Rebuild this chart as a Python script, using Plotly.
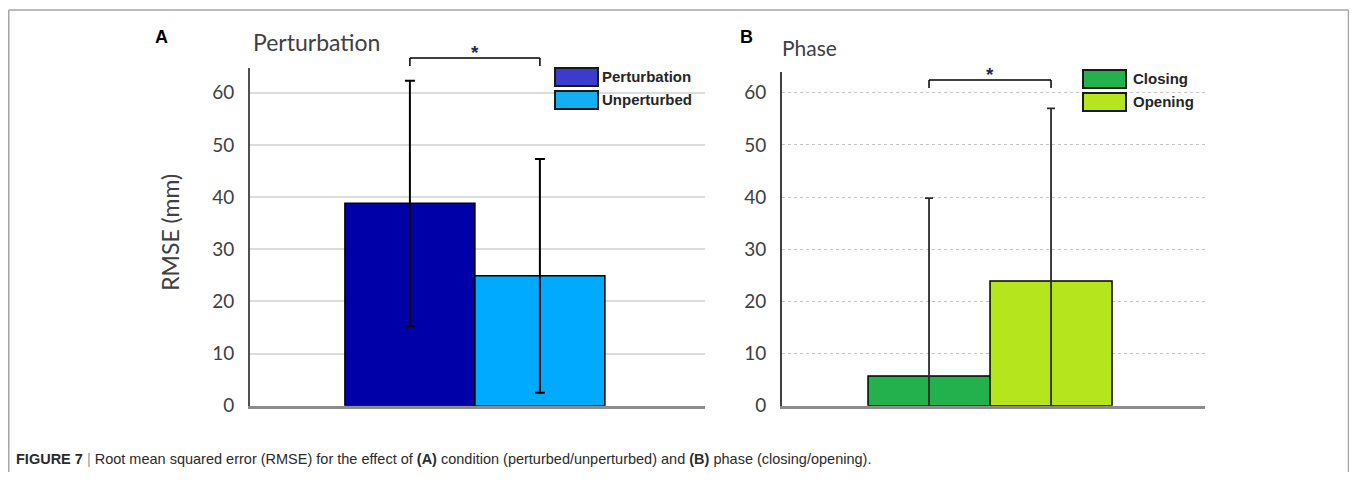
import plotly.graph_objects as go

# page body has an 8px default margin, so the figure is placed at (8, 8)
OX, OY = 8, 8
W, H = 1357 - 2 * OX, 464
VS = 0.977  # vertical correction observed between requested and photographed positions

# ---- data ----
cond_labels = ["Perturbation", "Unperturbed"]
cond_means = [38.8, 24.9]
cond_sd = [23.5, 22.4]
cond_colors = ["#0000A8", "#00AAFF"]
cond_legend_colors = ["#3C3CCC", "#14AEF2"]

phase_labels = ["Closing", "Opening"]
phase_means = [5.7, 23.9]
phase_sd = [34.1, 33.1]
phase_colors = ["#22B14C", "#B5E61D"]

y_ticks = [0, 10, 20, 30, 40, 50, 60]

caption = ("<b>FIGURE 7</b> <span style='color:#9a9a9a'>|</span> Root mean squared error (RMSE) for the effect of "
           "<b>(A)</b> condition (perturbed/unperturbed) and <b>(B)</b> phase (closing/opening).")


def px(x):
    return (x - OX) / W


def py(y):
    return 1 - ((y - OY) / VS) / H


fig = go.Figure()

for i in range(len(cond_labels)):
    fig.add_trace(go.Bar(
        x=[cond_labels[i]], y=[cond_means[i]], width=1,
        marker=dict(color=cond_colors[i], line=dict(color="black", width=1.5)),
        error_y=dict(type="data", array=[cond_sd[i]], color="black", thickness=2, width=5),
        xaxis="x", yaxis="y", showlegend=False, name=cond_labels[i]))

for i in range(len(phase_labels)):
    fig.add_trace(go.Bar(
        x=[phase_labels[i]], y=[phase_means[i]], width=1,
        marker=dict(color=phase_colors[i], line=dict(color="black", width=1.5)),
        error_y=dict(type="data", array=[phase_sd[i]], color="#2a2a2a", thickness=1.8, width=4),
        xaxis="x2", yaxis="y2", showlegend=False, name=phase_labels[i]))

tickfont = dict(family="Lato", size=19, color="#404040")

fig.update_layout(
    width=W, height=H,
    margin=dict(l=0, r=0, t=0, b=0),
    paper_bgcolor="white", plot_bgcolor="white",
    barmode="overlay",
    xaxis=dict(domain=[px(250), px(705)], anchor="y", type="category",
               categoryorder="array", categoryarray=cond_labels,
               range=[-1.23, 2.27], showticklabels=False, ticks="",
               showline=True, linecolor="#8c8c8c", linewidth=3,
               showgrid=False, zeroline=False),
    yaxis=dict(domain=[py(406), py(68)], anchor="x", range=[0, 64.75],
               tickvals=y_ticks, ticks="", ticklabelstandoff=10, tickfont=tickfont,
               showline=True, linecolor="#505050", linewidth=2,
               showgrid=True, gridcolor="#dcdcdc", gridwidth=1.5, zeroline=False),
    xaxis2=dict(domain=[px(782), px(1205)], anchor="y2", type="category",
                categoryorder="array", categoryarray=phase_labels,
                range=[-1.205, 2.262], showticklabels=False, ticks="",
                showline=True, linecolor="#8c8c8c", linewidth=3,
                showgrid=False, zeroline=False),
    yaxis2=dict(domain=[py(406), py(72)], anchor="x2", range=[0, 64.0],
                tickvals=y_ticks, ticks="", ticklabelstandoff=10, tickfont=tickfont,
                showline=True, linecolor="#404040", linewidth=2,
                showgrid=True, gridcolor="#c4c4c4", gridwidth=1, griddash="dot",
                zeroline=False),
)

shapes = []
ann = []

# outer frame
frame = dict(color="#a6a6a6", width=1.5)
shapes.append(dict(type="line", xref="paper", yref="paper", x0=px(8.75), x1=px(8.75), y0=py(10), y1=py(490), line=frame))
shapes.append(dict(type="line", xref="paper", yref="paper", x0=px(8.75), x1=px(1348.5), y0=py(10), y1=py(10), line=frame))
shapes.append(dict(type="line", xref="paper", yref="paper", x0=px(1348.5), x1=px(1348.5), y0=py(10), y1=py(490), line=frame))


# significance brackets
def bracket(xref, y_top, y_bot, star_y):
    ln = dict(color="black", width=1.5)
    shapes.append(dict(type="line", xref=xref, yref="paper", x0=0, x1=1, y0=py(y_top), y1=py(y_top), line=ln))
    shapes.append(dict(type="line", xref=xref, yref="paper", x0=0, x1=0, y0=py(y_top), y1=py(y_bot), line=ln))
    shapes.append(dict(type="line", xref=xref, yref="paper", x0=1, x1=1, y0=py(y_top), y1=py(y_bot), line=ln))
    ann.append(dict(xref=xref, yref="paper", x=0.5, y=py(star_y), text="<b>*</b>", showarrow=False,
                    font=dict(family="Liberation Sans", size=19, color="#1d2b4f"),
                    xanchor="center", yanchor="middle"))


bracket("x", 58, 66, 53)
bracket("x2", 80, 88, 75)


# custom legends
def legend(x0, x1, boxes, labels, colors, tx):
    for (ya, yb), lab, col in zip(boxes, labels, colors):
        shapes.append(dict(type="rect", xref="paper", yref="paper", x0=px(x0), x1=px(x1),
                           y0=py(yb), y1=py(ya), fillcolor=col,
                           line=dict(color="#1a1a1a", width=2)))
        ann.append(dict(xref="paper", yref="paper", x=px(tx), y=py((ya + yb) / 2), text="<b>" + lab + "</b>",
                        showarrow=False, xanchor="left", yanchor="middle",
                        font=dict(family="Liberation Sans", size=15, color="#262626")))


legend(555, 598, [(68, 86), (91, 109)], cond_labels, cond_legend_colors, 600)
legend(1083, 1126, [(70, 88), (93, 111)], phase_labels, phase_colors, 1131)

# panel letters and titles
ann.append(dict(xref="paper", yref="paper", x=px(161), y=py(37), text="<b>A</b>", showarrow=False,
                xanchor="center", yanchor="middle", font=dict(family="Liberation Sans", size=18, color="black")))
ann.append(dict(xref="paper", yref="paper", x=px(746), y=py(37), text="<b>B</b>", showarrow=False,
                xanchor="center", yanchor="middle", font=dict(family="Liberation Sans", size=18, color="black")))
ann.append(dict(xref="paper", yref="paper", x=px(251), y=py(42), text="Perturbation", showarrow=False,
                xanchor="left", yanchor="middle", font=dict(family="Lato", size=23, color="#404040")))
ann.append(dict(xref="paper", yref="paper", x=px(780), y=py(48), text="Phase", showarrow=False,
                xanchor="left", yanchor="middle", font=dict(family="Lato", size=21, color="#404040")))
ann.append(dict(xref="paper", yref="paper", x=px(170), y=py(233), text="RMSE (mm)", showarrow=False,
                textangle=-90, xanchor="center", yanchor="middle",
                font=dict(family="Lato", size=23, color="#404040")))

# caption
ann.append(dict(xref="paper", yref="paper", x=px(14), y=py(459), text=caption, showarrow=False,
                xanchor="left", yanchor="middle",
                font=dict(family="Liberation Sans", size=14.5, color="#2b2b2b")))

fig.update_layout(shapes=shapes, annotations=ann)

fig.write_html("out.html")
